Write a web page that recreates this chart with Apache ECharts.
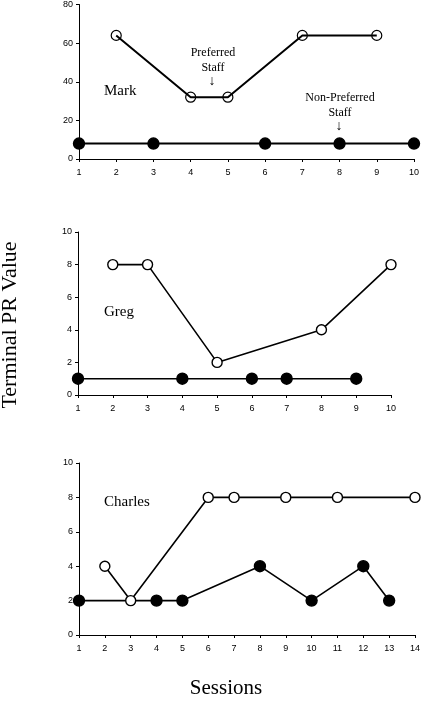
<!DOCTYPE html>
<html><head><meta charset="utf-8">
<script src="https://cdn.jsdelivr.net/npm/echarts@6/dist/echarts.min.js"></script>
<style>html,body{margin:0;padding:0;background:#fff}#c{width:423px;height:705px}</style>
</head><body><div id="c"></div>
<script>
// Mark
const markPrefSessions = [2, 4, 5, 7, 9];
const markPrefValues = [64, 32, 32, 64, 64];
const markNonSessions = [1, 3, 6, 8, 10];
const markNonValues = [8, 8, 8, 8, 8];
const markYTicks = [0, 20, 40, 60, 80];
// Greg
const gregPrefSessions = [2, 3, 5, 8, 10];
const gregPrefValues = [8, 8, 2, 4, 8];
const gregNonSessions = [1, 4, 6, 7, 9];
const gregNonValues = [1, 1, 1, 1, 1];
const gregYTicks = [0, 2, 4, 6, 8, 10];
// Charles
const charlesPrefSessions = [2, 3, 6, 7, 9, 11, 14];
const charlesPrefValues = [4, 2, 8, 8, 8, 8, 8];
const charlesNonSessions = [1, 4, 5, 8, 10, 12, 13];
const charlesNonValues = [2, 2, 2, 4, 2, 4, 2];
const charlesYTicks = [0, 2, 4, 6, 8, 10];

const zip = (xs, ys) => xs.map((x, i) => [x, ys[i]]);
const axisFont = {fontFamily: 'Liberation Sans, Arial, sans-serif', fontSize: 9, color: '#000'};
const serif = 'Liberation Serif, Times New Roman, serif';

function xAxis(idx, max) {
  return {type: 'value', gridIndex: idx, min: 1, max: max, interval: 1,
    axisLine: {show: true, lineStyle: {color: '#000', width: 1}},
    axisTick: {show: true, length: 3, lineStyle: {color: '#000'}},
    axisLabel: Object.assign({margin: 9}, axisFont),
    splitLine: {show: false}};
}
function yAxis(idx, ticks) {
  return {type: 'value', gridIndex: idx, min: ticks[0], max: ticks[ticks.length - 1],
    interval: ticks[1] - ticks[0],
    axisLine: {show: true, onZero: false, lineStyle: {color: '#000', width: 1}},
    axisTick: {show: true, length: 3, lineStyle: {color: '#000'}},
    axisLabel: Object.assign({margin: 6}, axisFont),
    splitLine: {show: false}};
}
function series(idx, data, filled, hollow) {
  return {type: 'line', xAxisIndex: idx, yAxisIndex: idx, data: data,
    symbol: 'circle', symbolSize: filled ? 11 : 10,
    lineStyle: {color: '#000', width: idx === 0 ? 2 : 1.6},
    itemStyle: {color: filled ? '#000' : (hollow ? 'rgba(255,255,255,0)' : '#fff'), borderColor: '#000', borderWidth: hollow ? 1.2 : 1.4},
    z: filled ? 3 : 4, animation: false};
}

const chart = echarts.init(document.getElementById('c'));
chart.setOption({
  backgroundColor: '#fff',
  animation: false,
  grid: [
    {left: 79, width: 335, top: 4, height: 155},
    {left: 78, width: 313, top: 232, height: 163},
    {left: 79, width: 338, top: 463, height: 172}
  ],
  xAxis: [xAxis(0, 10), xAxis(1, 10), xAxis(2, 14)],
  yAxis: [yAxis(0, markYTicks), yAxis(1, gregYTicks), yAxis(2, charlesYTicks)],
  series: [
    series(0, zip(markNonSessions, markNonValues), true),
    series(0, zip(markPrefSessions, markPrefValues), false, true),
    series(1, zip(gregNonSessions, gregNonValues), true),
    series(1, zip(gregPrefSessions, gregPrefValues), false),
    series(2, zip(charlesNonSessions, charlesNonValues), true),
    series(2, zip(charlesPrefSessions, charlesPrefValues), false)
  ],
  graphic: [
    {type: 'text', left: 104, top: 84, style: {text: 'Mark', font: '15px ' + serif, fill: '#000'}},
    {type: 'text', x: 213, y: 45, style: {text: 'Preferred\nStaff', font: '12px ' + serif, fill: '#000', align: 'center', lineHeight: 15}},
    {type: 'text', x: 212, y: 74, style: {text: '↓', font: '14px ' + serif, fill: '#000', align: 'center'}},
    {type: 'text', x: 340, y: 90, style: {text: 'Non-Preferred\nStaff', font: '12px ' + serif, fill: '#000', align: 'center', lineHeight: 15}},
    {type: 'text', x: 339, y: 119, style: {text: '↓', font: '14px ' + serif, fill: '#000', align: 'center'}},
    {type: 'text', left: 104, top: 305, style: {text: 'Greg', font: '15px ' + serif, fill: '#000'}},
    {type: 'text', left: 104, top: 495, style: {text: 'Charles', font: '15px ' + serif, fill: '#000'}},
    {type: 'text', x: 226, y: 688, style: {text: 'Sessions', font: '21px ' + serif, fill: '#000', align: 'center', verticalAlign: 'middle'}},
    {type: 'text', x: 10, y: 325, rotation: Math.PI / 2, style: {text: 'Terminal PR Value', font: '22px ' + serif, fill: '#000', align: 'center', verticalAlign: 'middle'}}
  ]
});
</script></body></html>
